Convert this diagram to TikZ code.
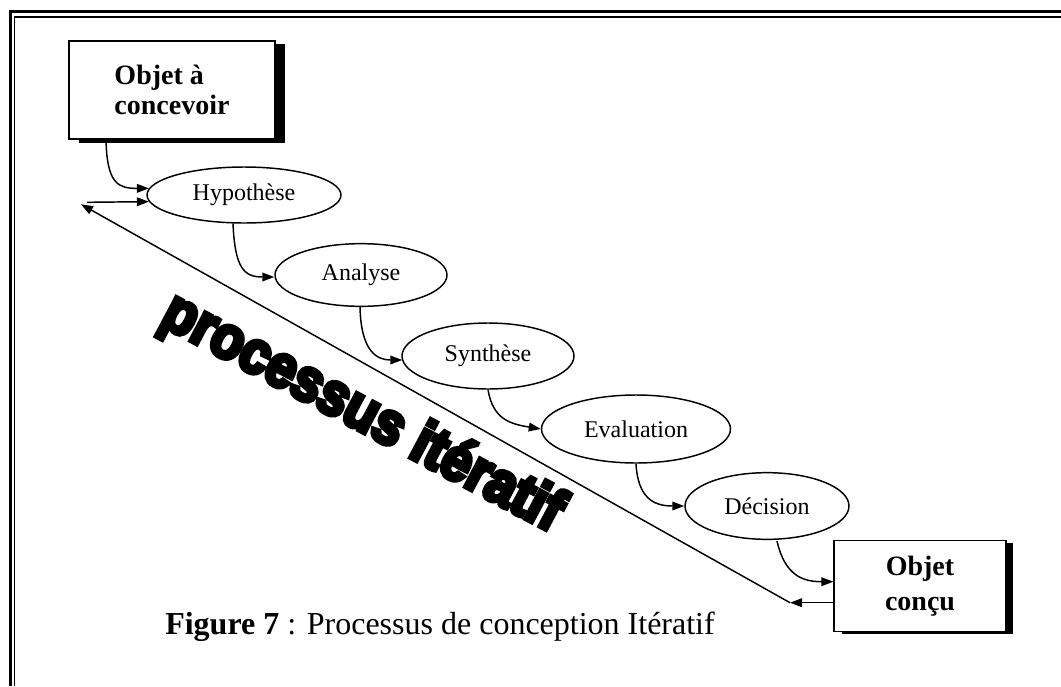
\documentclass[tikz,border=0pt]{standalone}
\usepackage{fontspec}
\setmainfont{Liberation Serif}
\newfontfamily\wordfont[FakeBold=8]{Liberation Sans Bold}
\usetikzlibrary{shapes.geometric,arrows.meta,calc,shadows}

\tikzset{
  frameouter/.style={line width=2.25pt},
  frameinner/.style={line width=1.1pt},
  objbox/.style={draw, line width=1.1pt, fill=white, rectangle, inner sep=0pt,
    font=\fontsize{21}{23}\selectfont\bfseries, align=left},
  stage/.style={draw, ellipse, line width=1.1pt, inner sep=0pt, fill=white,
    font=\fontsize{18}{20}\selectfont},
  flow/.style={line width=1.1pt, -{Triangle[length=9pt,width=6.5pt]}},
  wordart/.style={font=\wordfont\fontsize{40}{44}\selectfont, inner sep=0pt},
  caption/.style={font=\fontsize{24}{26}\selectfont, inner sep=0pt, anchor=base west}
}

\begin{document}
\begin{tikzpicture}[x=0.75pt,y=-0.75pt]
  \useasboundingbox (0,0) rectangle (1061,686);

  % double frame along the left and top edges
  \draw[frameouter] (10,686) -- (10,11.5) -- (1061,11.5);
  \draw[frameinner] (14.5,686) -- (14.5,17) -- (1061,17);

  % start and end objects
  \node[objbox, minimum width=154.7pt, minimum height=73.7pt,
        drop shadow={shadow xshift=7.5pt, shadow yshift=-2.6pt, opacity=1, fill=black}]
        (start) at (172,90) {Objet à\\[-1pt]concevoir};
  \node[objbox, align=center, minimum width=128.8pt, minimum height=68.2pt,
        font=\fontsize{21}{26}\selectfont\bfseries,
        drop shadow={shadow xshift=5.6pt, shadow yshift=-1.9pt, opacity=1, fill=black}]
        (done) at (920,586.2) {Objet\\conçu};

  % design stages
  \node[stage, minimum width=145.5pt, minimum height=42pt] (hyp) at (244,195) {Hypothèse};
  \node[stage, minimum width=129pt,   minimum height=47pt] (ana) at (361,275) {Analyse};
  \node[stage, minimum width=129pt,   minimum height=49.5pt] (syn) at (488,356) {Synthèse};
  \node[stage, minimum width=141.75pt, minimum height=51pt] (eva) at (636,429) {Evaluation};
  \node[stage, minimum width=123pt,   minimum height=50pt] (dec) at (767,506) {Décision};

  % iteration word art
  \node[wordart, rotate=-28, yscale=1.12] (iter) at (362,414) {processus itératif};

  % caption
  \node[caption] (cap) at (165,634) {\textbf{Figure 7} : Processus de conception Itératif};

  % stage-to-stage flow
  \draw[flow] ($(start.south)+(-66,0)$) .. controls +(1,45) and +(-30,0) .. (hyp.176);
  \draw[flow] ($(hyp.south)+(-11,0)$) .. controls +(2,45) and +(-30,0) .. ($(ana.west)+(0,2)$);
  \draw[flow] ($(ana.south)+(-1,0)$) .. controls +(1,45) and +(-25,0) .. ($(syn.west)+(1,4)$);
  \draw[flow] (syn.south) .. controls +(5,30) and +(-30,-5) .. (eva.west);
  \draw[flow] (eva.south) .. controls +(2,35) and +(-30,0) .. (dec.west);
  \draw[flow] ($(dec.south)+(10,1)$) .. controls +(8,35) and +(-30,0) .. ($(done.west)+(0,-4.5)$);

  % feedback loop back to the first stage
  \coordinate (back) at (790,602.7);
  \coordinate (top) at (81,204.3);
  \coordinate (again) at (87,202.3);
  \draw[flow] ($(done.west)+(0,16.5)$) -- (back);
  \draw[flow] (back) -- (top);
  \draw[flow] (again) -- (hyp.184);
\end{tikzpicture}
\end{document}
